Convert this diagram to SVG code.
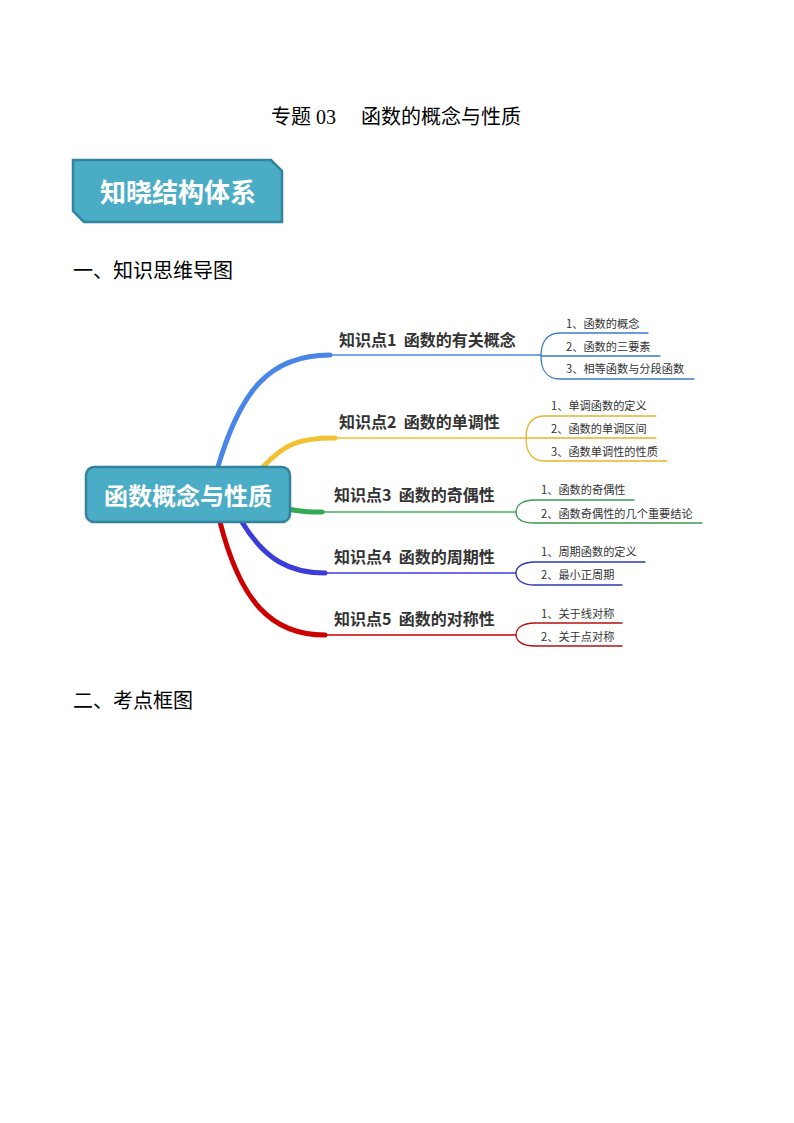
<svg xmlns="http://www.w3.org/2000/svg" width="794" height="1123" viewBox="0 0 794 1123">
<style>
.t{font-family:"Liberation Serif","Noto Sans CJK SC",serif;font-size:20px;fill:#000}
.h{font-family:"Noto Sans CJK SC",sans-serif;font-size:20px;fill:#000}
.k{font-family:"Noto Sans CJK SC",sans-serif;font-size:16px;font-weight:bold;fill:#333;white-space:pre}
.s{font-family:"Noto Sans CJK SC",sans-serif;font-size:11.2px;fill:#333}
.w{font-family:"Noto Sans CJK SC",sans-serif;font-weight:bold;fill:#fff;text-anchor:middle}
path{fill:none}
</style>
<rect width="794" height="1123" fill="#fff"/>
<text class="t" x="396" y="124" text-anchor="middle" xml:space="preserve">专题 03　 函数的概念与性质</text>
<g id="banner"><polygon points="73,160 271,160 282,171 282,222 84,222 73,211" fill="#4bacc6" stroke="#31849b" stroke-width="2.5"/>
<text class="w" x="178" y="202" font-size="26">知晓结构体系</text></g>
<text class="h" x="73" y="278">一、知识思维导图</text>
<text class="h" x="73" y="708">二、考点框图</text>
<g id="connectors" stroke-linecap="round">
<path d="M217,470 C240,390 270,355 330,355 L541,355" stroke="#4a86e8" stroke-width="1.5"/>
<path d="M217,470 C240,390 270,355 330,355" stroke="#4a86e8" stroke-width="5"/>
<path d="M263,467 C285,443 300,438 335,438 L526,438" stroke="#f1c232" stroke-width="1.5"/>
<path d="M263,467 C285,443 300,438 335,438" stroke="#f1c232" stroke-width="5"/>
<path d="M290,510 C305,512 315,512 330,512 L516,512" stroke="#34a853" stroke-width="1.5" stroke-opacity="0.9"/>
<path d="M288,509 C300,512 310,512 322,512" stroke="#34a853" stroke-width="5"/>
<path d="M242,522 C265,560 290,573 330,573 L516,573" stroke="#3c3cdc" stroke-width="1.5"/>
<path d="M242,522 C265,560 290,573 325,573" stroke="#3c3cdc" stroke-width="5"/>
<path d="M220,522 C240,600 270,635 330,635 L516,635" stroke="#cc0000" stroke-width="1.5"/>
<path d="M220,522 C240,600 270,635 325,635" stroke="#cc0000" stroke-width="5"/>
<g stroke="#3d7cc9" stroke-width="1.3"><path d="M560,333 C545,333 541,345 541,356 C541,367 545,379 560,379 L694,379 M560,333 L648,333 M541,356 L660,356"/></g>
<g stroke="#e6b52c" stroke-width="1.3"><path d="M545,416 C530,416 526,427 526,438 C526,450 530,461 545,461 L667,461 M545,416 L656,416 M526,438 L656,438"/></g>
<g stroke="#3a9a50" stroke-width="1.3"><path d="M535,500 C521,500 516,506 516,512 C516,518 521,523 535,523 L702,523 M535,500 L634,500"/></g>
<g stroke="#2e3ab0" stroke-width="1.3"><path d="M535,562 C521,562 516,568 516,573 C516,579 521,585 535,585 L622,585 M535,562 L645,562"/></g>
<g stroke="#b51010" stroke-width="1.3"><path d="M535,623 C521,623 516,629 516,635 C516,640 521,646 535,646 L622,646 M535,623 L622,623"/></g>
</g>
<g id="center"><rect x="86" y="467" width="204" height="55" rx="8" fill="#4bacc6" stroke="#31849b" stroke-width="2.5"/>
<text class="w" x="188" y="505" font-size="24">函数概念与性质</text></g>
<g id="k1"><text class="k" x="339" y="346" xml:space="preserve">知识点1  函数的有关概念</text>
<text class="s" x="566" y="328">1、函数的概念</text><text class="s" x="566" y="351">2、函数的三要素</text><text class="s" x="566" y="373">3、相等函数与分段函数</text></g>
<g id="k2"><text class="k" x="339" y="428" xml:space="preserve">知识点2  函数的单调性</text>
<text class="s" x="551" y="410">1、单调函数的定义</text><text class="s" x="551" y="433">2、函数的单调区间</text><text class="s" x="551" y="456">3、函数单调性的性质</text></g>
<g id="k3"><text class="k" x="334" y="501" xml:space="preserve">知识点3  函数的奇偶性</text>
<text class="s" x="541" y="494">1、函数的奇偶性</text><text class="s" x="541" y="518">2、函数奇偶性的几个重要结论</text></g>
<g id="k4"><text class="k" x="334" y="563" xml:space="preserve">知识点4  函数的周期性</text>
<text class="s" x="541" y="556">1、周期函数的定义</text><text class="s" x="541" y="579">2、最小正周期</text></g>
<g id="k5"><text class="k" x="334" y="625" xml:space="preserve">知识点5  函数的对称性</text>
<text class="s" x="541" y="618">1、关于线对称</text><text class="s" x="541" y="641">2、关于点对称</text></g>
</svg>
